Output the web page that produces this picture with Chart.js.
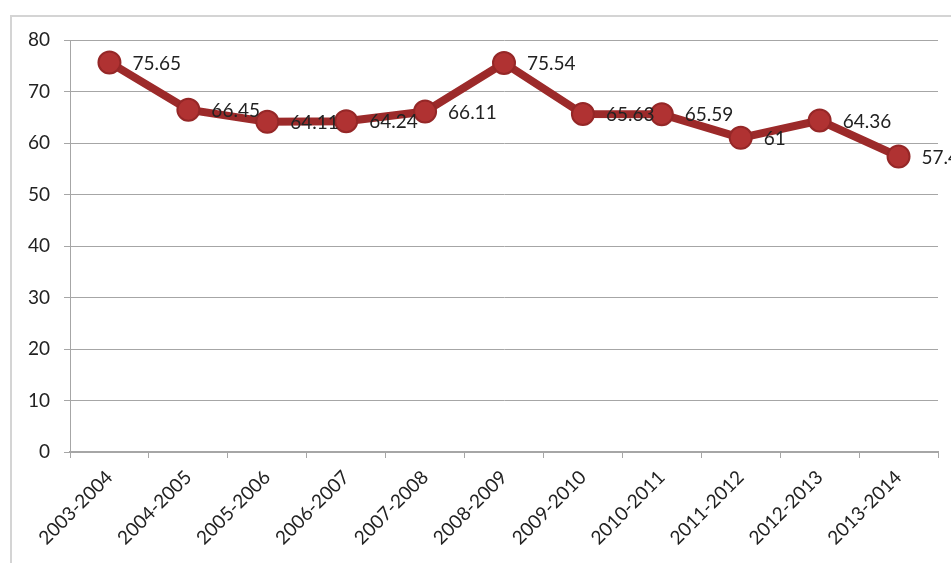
<!DOCTYPE html>
<html>
<head>
<meta charset="utf-8">
<script src="https://cdn.jsdelivr.net/npm/chart.js@4.4.1/dist/chart.umd.min.js"></script>
<style>
  html, body { margin: 0; padding: 0; background: #fff; overflow: hidden; }
  #wrap { position: relative; width: 951px; height: 563px; }
</style>
</head>
<body>
<div id="wrap"><canvas id="myChart" width="951" height="563"></canvas></div>
<script>
// school years and their values
const years = ['2003-2004', '2004-2005', '2005-2006', '2006-2007', '2007-2008', '2008-2009',
  '2009-2010', '2010-2011', '2011-2012', '2012-2013', '2013-2014'];
const values = [75.65, 66.45, 64.11, 64.24, 66.11, 75.54, 65.63, 65.59, 61, 64.36, 57.4];
const yTicks = [0, 10, 20, 30, 40, 50, 60, 70, 80];

const fontFam = 'Lato, "Open Sans", sans-serif';

// grey frame round the chart, cut off at right and bottom like the scan
const frame = {
  id: 'frame',
  beforeDraw(chart) {
    const c = chart.ctx;
    c.save();
    c.strokeStyle = '#d4d4d4';
    c.lineWidth = 2;
    c.beginPath();
    c.moveTo(11, 563);
    c.lineTo(11, 16);
    c.lineTo(951, 16);
    c.stroke();
    c.restore();
  }
};

// value labels to the right of each point
const pointLabels = {
  id: 'pointLabels',
  afterDatasetsDraw(chart) {
    const c = chart.ctx;
    const meta = chart.getDatasetMeta(0);
    c.save();
    c.font = '19px ' + fontFam;
    c.fillStyle = '#222';
    c.textBaseline = 'middle';
    c.textAlign = 'left';
    meta.data.forEach((pt, i) => {
      c.fillText(String(values[i]), pt.x + 23, pt.y + 1);
    });
    c.restore();
  }
};

new Chart(document.getElementById('myChart'), {
  type: 'line',
  data: {
    labels: years,
    datasets: [{
      data: values,
      borderColor: '#9c2a2a',
      borderWidth: 8,
      pointRadius: 11,
      pointHoverRadius: 11,
      pointBackgroundColor: '#b03232',
      pointBorderColor: '#952727',
      pointBorderWidth: 2,
      tension: 0
    }]
  },
  options: {
    responsive: false,
    animation: false,
    layout: { padding: { left: 0, top: 40, right: 12, bottom: 0 } },
    plugins: {
      legend: { display: false },
      tooltip: { enabled: false }
    },
    scales: {
      x: {
        offset: true,
        grid: {
          display: true,
          drawOnChartArea: false,
          offset: true,
          color: '#a6a6a6',
          tickLength: 6
        },
        border: { color: '#a6a6a6', width: 2 },
        ticks: {
          color: '#222',
          minRotation: 45,
          maxRotation: 45,
          autoSkip: false,
          padding: 8,
          font: { size: 19, family: fontFam }
        },
        afterFit(scale) { scale.height = 111; }
      },
      y: {
        min: 0,
        max: 80,
        afterBuildTicks(scale) { scale.ticks = yTicks.map(v => ({ value: v })); },
        grid: { color: '#a6a6a6', lineWidth: 1, tickLength: 6 },
        border: { color: '#a6a6a6', width: 1 },
        ticks: {
          color: '#222',
          padding: 14,
          font: { size: 19, family: fontFam }
        },
        afterFit(scale) { scale.width = 70; }
      }
    }
  },
  plugins: [frame, pointLabels]
});
</script>
</body>
</html>
